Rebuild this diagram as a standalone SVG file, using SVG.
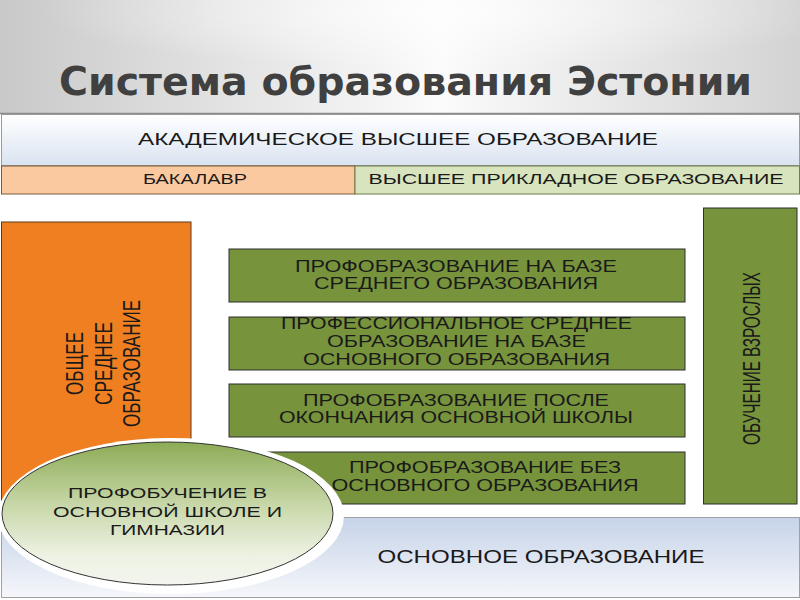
<svg xmlns="http://www.w3.org/2000/svg" width="800" height="600" viewBox="0 0 800 600">
<defs>
  <linearGradient id="bg" x1="0" y1="0" x2="1" y2="0">
    <stop offset="0" stop-color="#c9c9c9"/>
    <stop offset="0.55" stop-color="#fbfbfb"/>
    <stop offset="1" stop-color="#d3d3d3"/>
  </linearGradient>
  <radialGradient id="bgGlow" cx="0.55" cy="0.1" r="0.5">
    <stop offset="0" stop-color="#ffffff" stop-opacity="0.7"/>
    <stop offset="1" stop-color="#ffffff" stop-opacity="0"/>
  </radialGradient>
  <linearGradient id="acad" x1="0" y1="0" x2="0" y2="1">
    <stop offset="0" stop-color="#ffffff"/>
    <stop offset="1" stop-color="#d9e3f1"/>
  </linearGradient>
  <linearGradient id="basic" x1="0" y1="0" x2="0" y2="1">
    <stop offset="0" stop-color="#c6d3e8"/>
    <stop offset="1" stop-color="#f5f7fb"/>
  </linearGradient>
  <linearGradient id="ell" x1="0" y1="0" x2="0" y2="1">
    <stop offset="0" stop-color="#8dab55"/>
    <stop offset="0.45" stop-color="#c9d8aa"/>
    <stop offset="0.8" stop-color="#eef2e4"/>
    <stop offset="1" stop-color="#f3f5ee"/>
  </linearGradient>
  <style>
    .t { font-family: "Liberation Sans", Arial, sans-serif; fill: #1a1a1a; text-anchor: middle; }
    .g { fill: #77933c; stroke: #2f2f2f; stroke-width: 1; }
    .gt { font-size: 16.5px; }
    .vt { font-size: 23px; }
  </style>
</defs>

<rect x="0" y="0" width="800" height="600" fill="url(#bg)"/>
<rect x="0" y="0" width="800" height="115" fill="url(#bgGlow)"/>
<text x="405.5" y="95" font-family="DejaVu Sans, sans-serif" font-weight="bold" font-size="38.5" fill="#404040" text-anchor="middle" textLength="693" lengthAdjust="spacingAndGlyphs">Система образования Эстонии</text>

<rect x="0" y="113" width="800" height="487" fill="#ffffff"/>
<line x1="0" y1="113.5" x2="800" y2="113.5" stroke="#8c8c8c" stroke-width="1.5"/>

<g id="academic">
  <rect x="1.5" y="114.5" width="798" height="51" fill="url(#acad)" stroke="#9a9a9a" stroke-width="1"/>
  <text class="t" x="398" y="145" font-size="17" textLength="520" lengthAdjust="spacingAndGlyphs">АКАДЕМИЧЕСКОЕ ВЫСШЕЕ ОБРАЗОВАНИЕ</text>
</g>
<g id="bachelor">
  <rect x="1.5" y="166" width="353.5" height="28" fill="#fac9a0" stroke="#7a5a3a" stroke-width="1"/>
  <text class="t" x="195" y="184" font-size="14" textLength="104" lengthAdjust="spacingAndGlyphs">БАКАЛАВР</text>
</g>
<g id="applied">
  <rect x="355" y="166" width="444.5" height="28" fill="#d7e4bd" stroke="#6d7f4a" stroke-width="1"/>
  <text class="t" x="576" y="184" font-size="14" textLength="415" lengthAdjust="spacingAndGlyphs">ВЫСШЕЕ ПРИКЛАДНОЕ ОБРАЗОВАНИЕ</text>
</g>

<g id="basic">
  <rect x="1.5" y="517.5" width="798" height="80" fill="url(#basic)" stroke="#a0a0a0" stroke-width="1"/>
  <text class="t" x="541" y="563" font-size="18" textLength="327" lengthAdjust="spacingAndGlyphs">ОСНОВНОЕ ОБРАЗОВАНИЕ</text>
</g>

<g id="general-secondary">
  <rect x="1.5" y="222" width="189.5" height="295" fill="#f07f22" stroke="#5a3a1a" stroke-width="1"/>
  <text class="t vt" transform="translate(83,363.5) rotate(-90)" textLength="63" lengthAdjust="spacingAndGlyphs">ОБЩЕЕ</text>
  <text class="t vt" transform="translate(112,363.5) rotate(-90)" textLength="83" lengthAdjust="spacingAndGlyphs">СРЕДНЕЕ</text>
  <text class="t vt" transform="translate(140,363.5) rotate(-90)" textLength="127" lengthAdjust="spacingAndGlyphs">ОБРАЗОВАНИЕ</text>
</g>

<g id="voc-secondary-base">
  <rect class="g" x="229" y="249" width="456" height="53"/>
  <text class="t gt" x="456" y="272" textLength="322" lengthAdjust="spacingAndGlyphs">ПРОФОБРАЗОВАНИЕ НА БАЗЕ</text>
  <text class="t gt" x="456" y="289" textLength="284" lengthAdjust="spacingAndGlyphs">СРЕДНЕГО ОБРАЗОВАНИЯ</text>
</g>
<g id="voc-secondary">
  <rect class="g" x="229" y="317" width="456" height="53"/>
  <text class="t gt" x="456.5" y="329" textLength="351" lengthAdjust="spacingAndGlyphs">ПРОФЕССИОНАЛЬНОЕ СРЕДНЕЕ</text>
  <text class="t gt" x="456.5" y="347" textLength="259" lengthAdjust="spacingAndGlyphs">ОБРАЗОВАНИЕ НА БАЗЕ</text>
  <text class="t gt" x="456.5" y="365" textLength="307" lengthAdjust="spacingAndGlyphs">ОСНОВНОГО ОБРАЗОВАНИЯ</text>
</g>
<g id="voc-after-basic">
  <rect class="g" x="229" y="384" width="456" height="53"/>
  <text class="t gt" x="456" y="406" textLength="306" lengthAdjust="spacingAndGlyphs">ПРОФОБРАЗОВАНИЕ ПОСЛЕ</text>
  <text class="t gt" x="456" y="423" textLength="354" lengthAdjust="spacingAndGlyphs">ОКОНЧАНИЯ ОСНОВНОЙ ШКОЛЫ</text>
</g>
<g id="voc-without-basic">
  <rect class="g" x="229" y="452" width="456" height="52"/>
  <text class="t gt" x="485" y="473" textLength="272" lengthAdjust="spacingAndGlyphs">ПРОФОБРАЗОВАНИЕ БЕЗ</text>
  <text class="t gt" x="485" y="491" textLength="307" lengthAdjust="spacingAndGlyphs">ОСНОВНОГО ОБРАЗОВАНИЯ</text>
</g>

<g id="adult">
  <rect class="g" x="703.5" y="208" width="93.5" height="296"/>
  <text class="t vt" transform="translate(760,358.5) rotate(-90)" textLength="173" lengthAdjust="spacingAndGlyphs">ОБУЧЕНИЕ ВЗРОСЛЫХ</text>
</g>

<g id="vocational-school">
  <ellipse cx="171" cy="516" rx="173" ry="78" fill="#ffffff"/>
  <ellipse cx="167.5" cy="513.5" rx="165.5" ry="71.5" fill="url(#ell)" stroke="#333333" stroke-width="1"/>
  <text class="t" x="167.5" y="498" font-size="14.5" textLength="199" lengthAdjust="spacingAndGlyphs">ПРОФОБУЧЕНИЕ В</text>
  <text class="t" x="167.5" y="517" font-size="14.5" textLength="229" lengthAdjust="spacingAndGlyphs">ОСНОВНОЙ ШКОЛЕ И</text>
  <text class="t" x="167.5" y="535" font-size="14.5" textLength="115" lengthAdjust="spacingAndGlyphs">ГИМНАЗИИ</text>
</g>

<g id="connectors"></g>
</svg>
